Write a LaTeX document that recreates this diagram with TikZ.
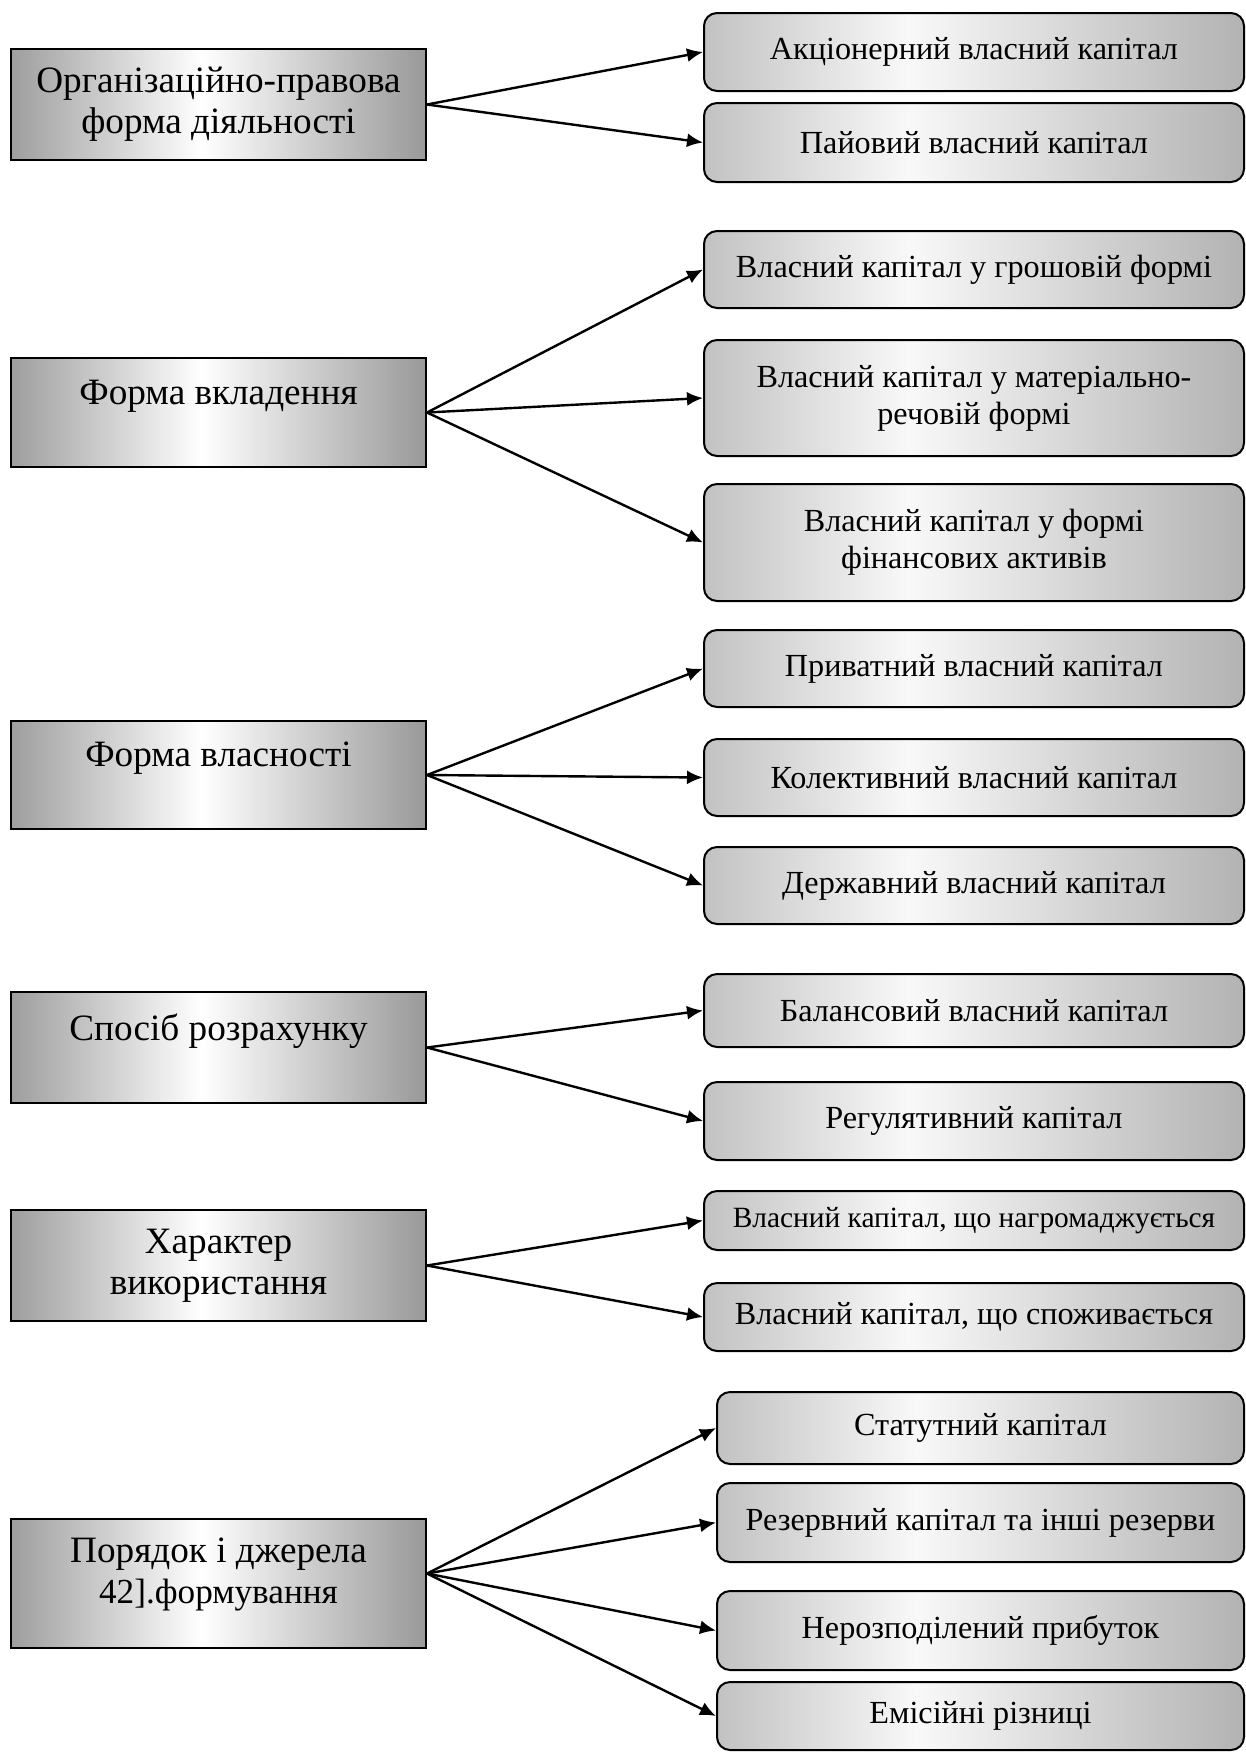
\documentclass[tikz,border=0pt]{standalone}
\usepackage{fontspec}
\setmainfont{Liberation Serif}
\usetikzlibrary{arrows.meta}
\definecolor{lg1}{gray}{0.62}
\definecolor{lg2}{gray}{0.60}
\definecolor{rg1}{gray}{0.76}
\definecolor{rg2}{gray}{0.70}
\definecolor{rgw}{gray}{0.975}
\pgfdeclarehorizontalshading{lboxshade}{100bp}{color(0bp)=(lg1); color(25bp)=(lg1); color(48bp)=(white); color(75bp)=(lg2); color(100bp)=(lg2)}
\pgfdeclarehorizontalshading{rboxshade}{100bp}{color(0bp)=(rg1); color(25bp)=(rg1); color(44bp)=(rgw); color(75bp)=(rg2); color(100bp)=(rg2)}
\tikzset{
  leftbox/.style={draw=black, line width=1pt, shading=lboxshade, inner sep=0pt,
    minimum width=207.5pt, align=center, font=\fontsize{18.6}{20.5}\selectfont},
  rightbox/.style={draw=black, line width=1pt, rounded corners=6.5pt, shading=rboxshade,
    inner sep=0pt, minimum width=270pt, align=center, font=\fontsize{16.1}{18.5}\selectfont},
  rightboxb/.style={rightbox, minimum width=263.5pt},
  conn/.style={line width=1.2pt, -{Latex[length=8pt,width=7pt]}}
}
\begin{document}
\begin{tikzpicture}[x=0.5pt,y=-0.5pt]
\useasboundingbox (0,0) rectangle (1246,1753);
% left boxes
\node[leftbox, minimum height=55.5pt] (L1) at (218.5,104.5) {Організаційно-правова\\форма діяльності};
\node[leftbox, minimum height=54.5pt] (L2) at (218.5,412.5) {Форма вкладення\\\mbox{}};
\node[leftbox, minimum height=54pt] (L3) at (218.5,775) {Форма власності\\\mbox{}};
\node[leftbox, minimum height=55.5pt] (L4) at (218.5,1047.5) {Спосіб розрахунку\\\mbox{}};
\node[leftbox, minimum height=55.5pt] (L5) at (218.5,1265.5) {Характер\\використання};
\node[leftbox, minimum height=64.5pt] (L6) at (218.5,1583.5) {Порядок і джерела\\{\fontsize{17.6}{19}\selectfont 42].формування}\\[-8pt]\mbox{}};
% right boxes
\node[rightbox, minimum height=39pt] (R1) at (974,52) {Акціонерний власний капітал};
\node[rightbox, minimum height=39.5pt] (R2) at (974,142.5) {Пайовий власний капітал};
\node[rightbox, minimum height=38.5pt] (R3) at (974,269.5) {Власний капітал у грошовій формі};
\node[rightbox, minimum height=58pt] (R4) at (974,398) {Власний капітал у матеріально-\\речовій формі};
\node[rightbox, minimum height=58.5pt] (R5) at (974,542.5) {Власний капітал у формі\\фінансових активів};
\node[rightbox, minimum height=38.5pt] (R6) at (974,668.5) {Приватний власний капітал};
\node[rightbox, minimum height=38.5pt] (R7) at (974,777.5) {Колективний власний капітал};
\node[rightbox, minimum height=38.5pt] (R8) at (974,885.5) {Державний власний капітал};
\node[rightbox, minimum height=36.5pt] (R9) at (974,1010.5) {Балансовий власний капітал};
\node[rightbox, minimum height=39pt] (R10) at (974,1121) {Регулятивний капітал};
\node[rightbox, minimum height=29.5pt, font=\fontsize{14.7}{17}\selectfont] (R11) at (974,1220.5) {Власний капітал, що нагромаджується};
\node[rightbox, minimum height=34pt] (R12) at (974,1317) {Власний капітал, що споживається};
\node[rightboxb, minimum height=36pt] (R13) at (980.5,1428) {Статутний капітал};
\node[rightboxb, minimum height=39.5pt] (R14) at (980.5,1522.5) {Резервний капітал та інші резерви};
\node[rightboxb, minimum height=39.5pt] (R15) at (980.5,1630.5) {Нерозподілений прибуток};
\node[rightboxb, minimum height=34pt] (R16) at (980.5,1716) {Емісійні різниці};
% connectors
\draw[conn] (L1.east) -- (R1.west);
\draw[conn] (L1.east) -- (R2.west);
\draw[conn] (L2.east) -- (R3.west);
\draw[conn] (L2.east) -- (R4.west);
\draw[conn] (L2.east) -- (R5.west);
\draw[conn] (L3.east) -- (R6.west);
\draw[conn] (L3.east) -- (R7.west);
\draw[conn] (L3.east) -- (R8.west);
\draw[conn] (L4.east) -- (R9.west);
\draw[conn] (L4.east) -- (R10.west);
\draw[conn] (L5.east) -- (R11.west);
\draw[conn] (L5.east) -- (R12.west);
\draw[conn] ([yshift=5pt]L6.east) -- (R13.west);
\draw[conn] ([yshift=5pt]L6.east) -- (R14.west);
\draw[conn] ([yshift=5pt]L6.east) -- (R15.west);
\draw[conn] ([yshift=5pt]L6.east) -- (R16.west);
\end{tikzpicture}
\end{document}
